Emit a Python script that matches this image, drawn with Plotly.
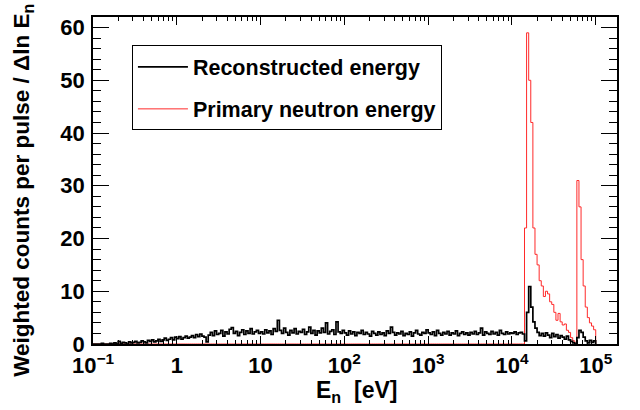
import numpy as np
import plotly.graph_objects as go

# Histogram binning: log10(E/eV) from -1 to 5, 40 bins per decade
LOG_E_MIN = -1.0
BIN_WIDTH = 0.025
N_BINS = 240

# Reconstructed energy, weighted counts per pulse / dln(E), one value per bin
reco_counts = [
    # 0.1 - 1 eV
    0, 0, 0, 0, 0.1, 0, 0, 0, 0.1, 0,
    0.2, 0, 0.5, 0.1, 0.3, 0.2, 0, 0.4, 0.2, 0.3,
    0.5, 0.2, 0.3, 0.6, 0.4, 0.2, 0.7, 0.5, 0.8, 0.4,
    0.6, 0.9, 0.5, 0.8, 1.1, 0.7, 0.9, 1.2, 0.8, 1.3,
    # 1 - 10 eV
    1.0, 1.4, 0.9, 1.2, 1.5, 1.1, 1.3, 1.6, 1.2, 1.8,
    1.4, 1.9, 1.5, 1.3, 0.4, 1.7, 2.2, 1.6, 2.5, 1.8,
    2.0, 2.6, 1.5, 2.3, 1.9, 2.8, 3.1, 2.0, 2.4, 1.6,
    2.2, 2.7, 1.8, 2.5, 2.0, 2.9, 1.9, 2.3, 2.6, 2.0,
    # 10 - 100 eV
    2.3, 1.9, 2.7, 2.1, 2.5, 1.8, 2.9, 2.4, 4.5, 2.6,
    2.0, 3.0, 2.2, 1.7, 2.6, 2.1, 2.9, 1.9, 2.4, 2.2,
    2.8, 1.8, 2.3, 3.2, 2.0, 2.6, 1.7, 2.5, 2.1, 3.0,
    2.2, 4.0, 1.9, 2.4, 2.7, 1.8, 4.2, 2.3, 2.0, 2.6,
    # 100 eV - 1 keV
    2.1, 1.7, 2.5, 1.9, 2.3, 1.6, 2.2, 2.0, 2.6, 1.8,
    2.2, 1.9, 1.5, 2.4, 2.0, 1.7, 2.3, 1.8, 2.1, 1.6,
    2.5, 2.0, 3.2, 2.2, 1.7, 2.1, 1.9, 2.4, 1.6, 2.0,
    1.8, 2.3, 1.5, 2.1, 2.6, 1.9, 1.7, 2.2, 2.0, 2.7,
    # 1 keV - 10 keV
    2.1, 1.8, 2.3, 1.6, 2.6, 2.0, 1.7, 2.2, 1.9, 2.4,
    1.7, 2.1, 1.9, 2.5, 1.6, 2.0, 2.3, 1.8, 2.1, 1.7,
    2.2, 1.9, 2.4, 1.8, 2.1, 3.0, 1.7, 2.3, 2.0, 1.8,
    2.4, 1.9, 2.2, 1.7, 2.6, 2.0, 1.8, 2.3, 1.9, 2.1,
    # 10 keV - 100 keV
    2.0, 2.3, 1.8, 2.1, 2.2, 1.9, 0.6, 6.0, 10.9, 7.0,
    4.2, 3.0, 2.2, 1.6, 2.0, 1.5, 2.1, 1.7, 1.2, 2.0,
    1.4, 1.8, 1.1, 1.6, 1.3, 0.9, 1.5, 0.8, 0.5, 0.2,
    0.0, 1.2, 2.6, 2.2, 1.3, 0.6, 0.2, 0.7, 0.3, 0.6,
]

# Primary neutron energy: empty below ~14 keV, then the two source lines
primary_zero_bins = 206
primary_peak_counts = [
    22.0, 59.0, 50.0, 42.0, 22.0, 17.0, 15.0, 12.0, 11.0, 9.0,
    10.0, 9.5, 8.0, 7.5, 6.0, 4.5, 5.8, 4.2, 3.6, 3.8,
    2.6, 2.2, 1.2, 0.6, 0.0, 31.0, 26.0, 16.0, 11.0, 7.0,
    5.0, 4.0, 3.4, 2.7,
]
primary_counts = [0.0] * primary_zero_bins + primary_peak_counts

x_tick_vals = [0.1, 1, 10, 100, 1000, 1e4, 1e5]
x_tick_text = ["10<sup>−1</sup>", "1", "10", "10<sup>2</sup>",
               "10<sup>3</sup>", "10<sup>4</sup>", "10<sup>5</sup>"]

edges = 10 ** (LOG_E_MIN + BIN_WIDTH * np.arange(N_BINS + 1))


def step_xy(values):
    # hv step: each bin drawn flat between its edges, closing down to zero
    return edges, list(values) + [0.0]


FONT = "Liberation Sans, Arial, Helvetica, sans-serif"

fig = go.Figure()
xr, yr = step_xy(primary_counts)
fig.add_trace(go.Scatter(x=xr, y=yr, mode="lines", line_shape="hv",
                         line=dict(color="#ff2a2a", width=1),
                         name="Primary neutron energy",
                         legendgroup="b", legendrank=2))
xb, yb = step_xy(reco_counts)
fig.add_trace(go.Scatter(x=xb, y=yb, mode="lines", line_shape="hv",
                         line=dict(color="black", width=1.7),
                         name="Reconstructed energy",
                         legendgroup="a", legendrank=1))

fig.update_layout(
    width=640, height=410,
    margin=dict(l=93, r=23, t=17, b=66),
    paper_bgcolor="white", plot_bgcolor="white",
    font=dict(family=FONT, size=20, color="black", weight="bold"),
    showlegend=True,
    legend=dict(x=0.0743, y=0.913, xanchor="left", yanchor="top",
                bgcolor="white", bordercolor="black", borderwidth=1,
                font=dict(family=FONT, size=21.5, color="black", weight="bold"),
                tracegroupgap=11, itemwidth=50),
)

fig.update_xaxes(
    type="log", range=[-1, 5.254],
    tickmode="array", tickvals=x_tick_vals, ticktext=x_tick_text,
    ticks="inside", ticklen=8, tickwidth=1, tickcolor="black",
    minor=dict(ticks="inside", ticklen=4, tickwidth=1, tickcolor="black",
               dtick="D1", showgrid=False),
    showline=True, linecolor="black", linewidth=1.5, mirror="ticks",
    showgrid=False, zeroline=False,
    tickfont=dict(family=FONT, size=22, color="black", weight="bold"),
    ticklabelstandoff=1,
)
fig.update_yaxes(
    range=[0, 62], dtick=10, tick0=0,
    ticks="inside", ticklen=16, tickwidth=1, tickcolor="black",
    minor=dict(ticks="inside", ticklen=8, tickwidth=1, tickcolor="black",
               dtick=2, showgrid=False),
    showline=True, linecolor="black", linewidth=1.5, mirror="ticks",
    showgrid=False, zeroline=False,
    tickfont=dict(family=FONT, size=22, color="black", weight="bold"),
    ticklabelstandoff=2,
)

# Axis titles
fig.add_annotation(text="E<sub>n</sub>  [eV]", xref="paper", yref="paper",
                   x=0.503, y=-0.145, xanchor="center", yanchor="middle",
                   showarrow=False,
                   font=dict(family=FONT, size=23, color="black", weight="bold"))
fig.add_annotation(text="Weighted counts per pulse / \u0394ln E<sub>n</sub>",
                   xref="paper", yref="paper", x=-0.134, y=0.471,
                   xanchor="center", yanchor="middle", textangle=-90,
                   showarrow=False,
                   font=dict(family=FONT, size=22.5, color="black", weight="bold"))

fig.write_html("out.html")
